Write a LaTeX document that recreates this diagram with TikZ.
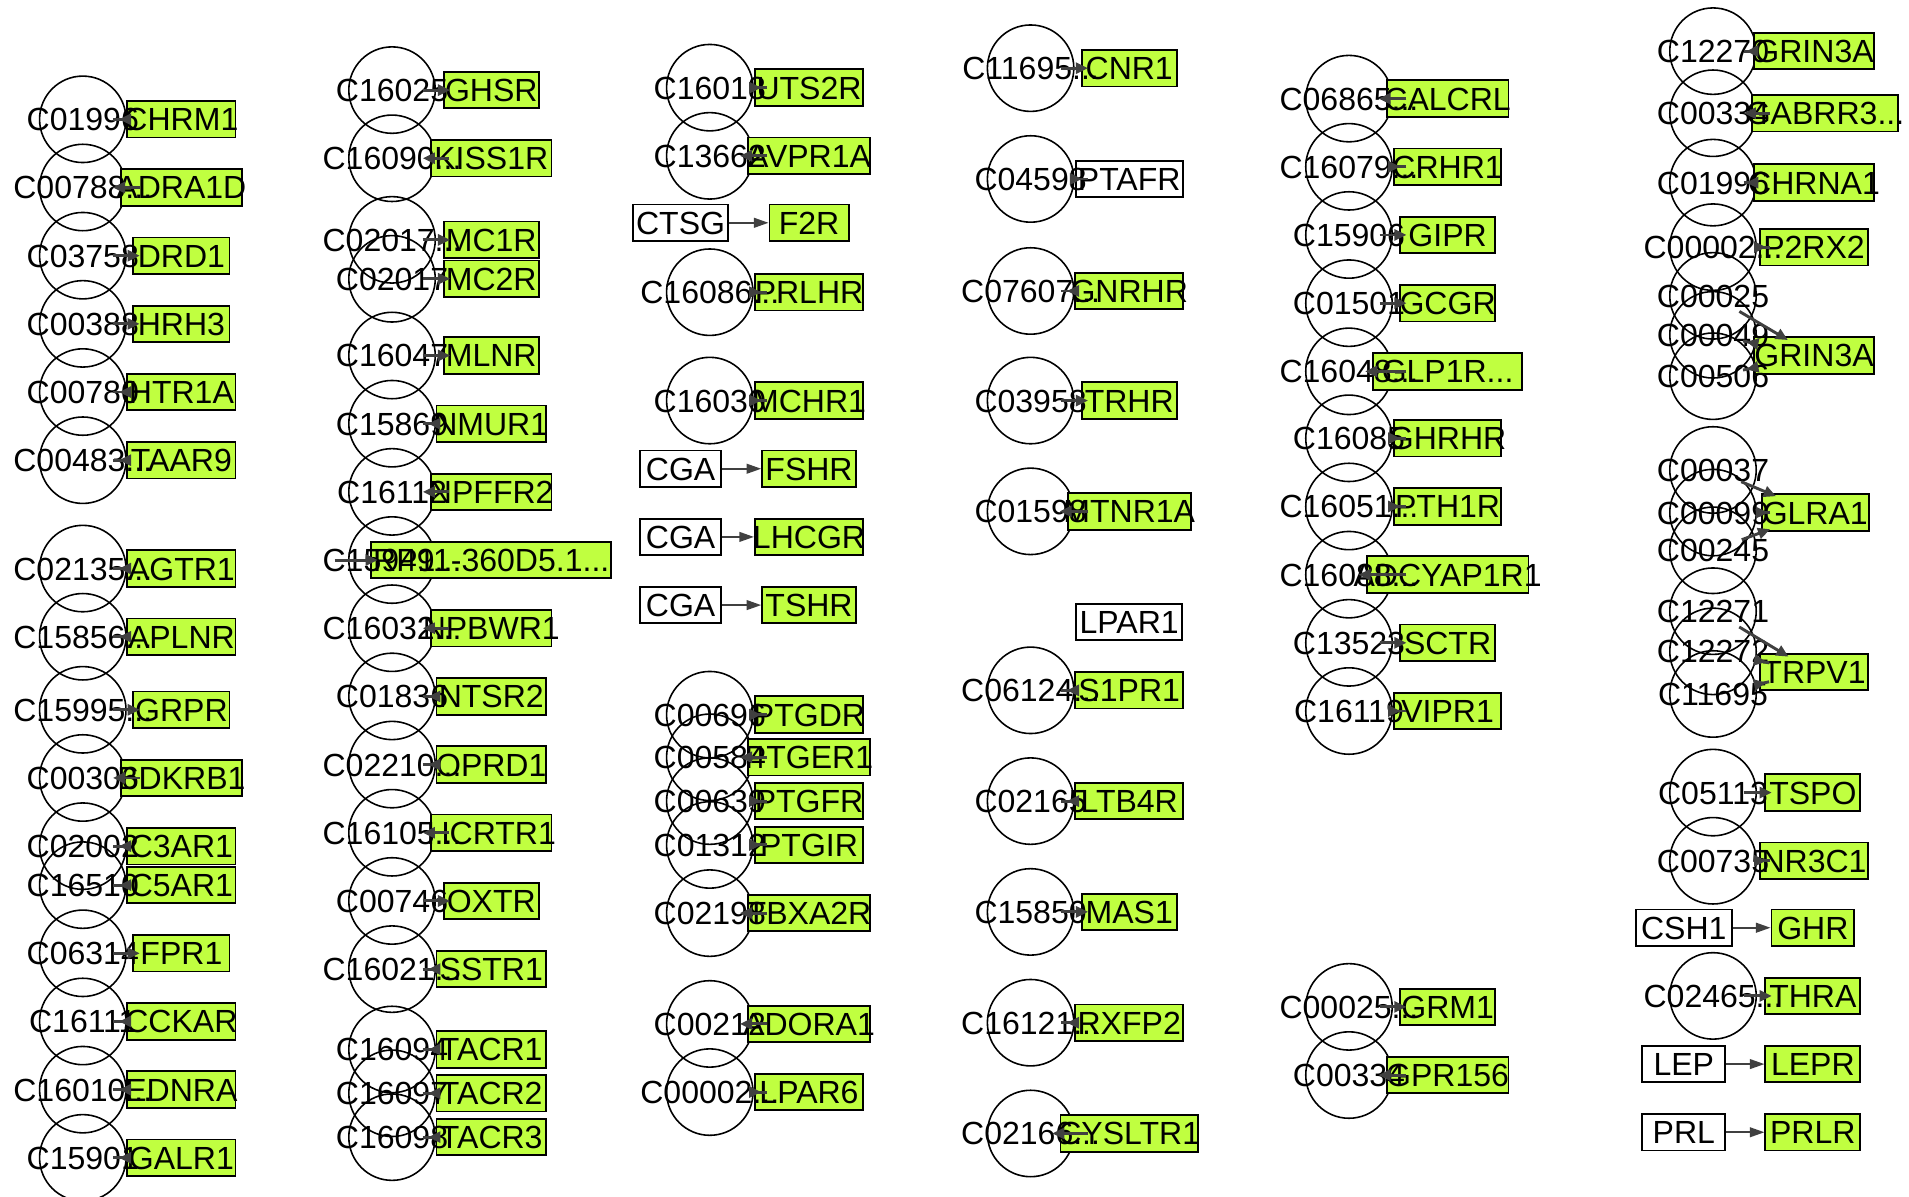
\documentclass[tikz,border=0pt]{standalone}
\usepackage{fontspec}
\setmainfont{Liberation Sans}
\usetikzlibrary{arrows.meta}
\definecolor{gfill}{RGB}{192,255,64}
\definecolor{edgegray}{RGB}{64,64,64}
\pgfdeclarelayer{shapes}\pgfdeclarelayer{boxes}\pgfdeclarelayer{arrows}
\pgfsetlayers{shapes,boxes,main,arrows}
\newcommand\lblfont{\fontsize{26.3}{26.3}\selectfont}
\tikzset{
 cpd/.style={circle, draw=black, line width=1.3pt, minimum size=71pt, inner sep=0pt},
 gbox/.style={rectangle, draw=black, fill=gfill, line width=1.5pt, minimum height=30pt, inner sep=0pt},
 wbox/.style={gbox, fill=white},
 lbl/.style={font=\lblfont, inner sep=0pt, text height=18.8pt, text depth=0pt},
 edge/.style={draw=edgegray, line width=2.4pt, -{Triangle[length=10pt,width=9pt]}, shorten <=-11pt, shorten >=-6pt},
 link/.style={draw=edgegray, line width=1.5pt, -{Triangle[length=12pt,width=8pt]}},
}
% id, y, circle x, box x, circle label, box width, gene, box style
\newcommand\cpdgene[8]{%
 \begin{pgfonlayer}{shapes}\node[cpd] (c#1) at (#3,#2) {};\end{pgfonlayer}
 \begin{pgfonlayer}{boxes}\node[#8, minimum width=#6pt] (g#1) at (#4,#2) {};\end{pgfonlayer}
 \node[lbl] (cl#1) at (c#1.center) {#5};
 \node[lbl] (gl#1) at (g#1.center) {#7};
 \begin{pgfonlayer}{arrows}\draw[edge] (c#1) -- (g#1);\end{pgfonlayer}
}
% id, y, circle x, label, target
\newcommand\cpdinto[5]{%
 \begin{pgfonlayer}{shapes}\node[cpd] (c#1) at (#3,#2) {};\end{pgfonlayer}
 \node[lbl] (cl#1) at (c#1.center) {#4};
 \begin{pgfonlayer}{arrows}\draw[edge] (c#1) -- (#5);\end{pgfonlayer}
}
% id, x, y, width, text, style
\newcommand\onebox[6]{%
 \begin{pgfonlayer}{boxes}\node[#6, minimum width=#4pt] (#1) at (#2,#3) {};\end{pgfonlayer}
 \node[lbl] (#1l) at (#1.center) {#5};
}
\begin{document}
\begin{tikzpicture}[x=1pt,y=-1pt]
\useasboundingbox (0,0) rectangle (1568,983);
% column 1
\cpdgene{1}{98}{68}{149}{C01996}{89}{CHRM1}{gbox}
\cpdgene{2}{154}{68}{149}{C00788...}{99}{ADRA1D}{gbox}
\cpdgene{3}{210}{68}{149}{C03758}{79}{DRD1}{gbox}
\cpdgene{4}{266}{68}{149}{C00388}{79}{HRH3}{gbox}
\cpdgene{5}{322}{68}{149}{C00780}{89}{HTR1A}{gbox}
\cpdgene{6}{378}{68}{149}{C00483...}{89}{TAAR9}{gbox}
\cpdgene{7}{467}{68}{149}{C02135...}{89}{AGTR1}{gbox}
\cpdgene{8}{523}{68}{149}{C15856...}{89}{APLNR}{gbox}
\cpdgene{9}{583}{68}{149}{C15995...}{79}{GRPR}{gbox}
\cpdgene{10}{639}{68}{149}{C00306}{99}{BDKRB1}{gbox}
\cpdgene{11}{695}{68}{149}{C02002}{89}{C3AR1}{gbox}
\cpdgene{12}{727}{68}{149}{C16510}{89}{C5AR1}{gbox}
\cpdgene{13}{783}{68}{149}{C06314}{79}{FPR1}{gbox}
\cpdgene{14}{839}{68}{149}{C16111}{89}{CCKAR}{gbox}
\cpdgene{15}{895}{68}{149}{C16010...}{89}{EDNRA}{gbox}
\cpdgene{16}{951}{68}{149}{C15901}{89}{GALR1}{gbox}
% column 2
\cpdgene{17}{74}{322}{403.5}{C16025}{78}{GHSR}{gbox}
\cpdgene{18}{130}{322}{403.5}{C16090...}{99}{KISS1R}{gbox}
\cpdgene{19}{197}{322}{403.5}{C02017...}{78}{MC1R}{gbox}
\cpdgene{20}{229}{322}{403.5}{C02017}{78}{MC2R}{gbox}
\cpdgene{21}{292}{322}{403.5}{C16047}{78}{MLNR}{gbox}
\cpdgene{22}{348}{322}{403.5}{C15869}{90}{NMUR1}{gbox}
\cpdgene{23}{404}{322}{403.5}{C16112}{99}{NPFFR2}{gbox}
\cpdgene{24}{460}{322}{403.5}{C15949...}{197}{RP11-360D5.1...}{gbox}
\cpdgene{25}{516}{322}{403.5}{C16032...}{99}{NPBWR1}{gbox}
\cpdgene{26}{572}{322}{403.5}{C01836}{90}{NTSR2}{gbox}
\cpdgene{27}{628}{322}{403.5}{C02210...}{90}{OPRD1}{gbox}
\cpdgene{28}{684}{322}{403.5}{C16105...}{99}{HCRTR1}{gbox}
\cpdgene{29}{740}{322}{403.5}{C00746}{78}{OXTR}{gbox}
\cpdgene{30}{796}{322}{403.5}{C16021...}{90}{SSTR1}{gbox}
\cpdgene{31}{862}{322}{403.5}{C16094}{90}{TACR1}{gbox}
\cpdgene{32}{898}{322}{403.5}{C16097}{90}{TACR2}{gbox}
\cpdgene{33}{934}{322}{403.5}{C16098}{90}{TACR3}{gbox}
% column 3
\cpdgene{34}{72}{583}{664.5}{C16018}{89}{UTS2R}{gbox}
\cpdgene{35}{128}{583}{664.5}{C13662}{100}{AVPR1A}{gbox}
\onebox{sCTSG}{559}{183}{78}{CTSG}{wbox}
\onebox{tF2R}{664.5}{183}{65}{F2R}{gbox}
\cpdgene{36}{240}{583}{664.5}{C16086...}{89}{PRLHR}{gbox}
\cpdgene{37}{329}{583}{664.5}{C16030}{89}{MCHR1}{gbox}
\onebox{sCGAa}{559}{385}{66}{CGA}{wbox}
\onebox{tFSHR}{664.5}{385}{77}{FSHR}{gbox}
\onebox{sCGAb}{559}{441}{66}{CGA}{wbox}
\onebox{tLHCGR}{664.5}{441}{89}{LHCGR}{gbox}
\onebox{sCGAc}{559}{497}{66}{CGA}{wbox}
\onebox{tTSHR}{664.5}{497}{77}{TSHR}{gbox}
\cpdgene{38}{587}{583}{664.5}{C00696}{89}{PTGDR}{gbox}
\cpdgene{39}{622}{583}{664.5}{C00584}{100}{PTGER1}{gbox}
\cpdgene{40}{658}{583}{664.5}{C00639}{89}{PTGFR}{gbox}
\cpdgene{41}{694}{583}{664.5}{C01312}{89}{PTGIR}{gbox}
\cpdgene{42}{750}{583}{664.5}{C02198}{100}{TBXA2R}{gbox}
\cpdgene{43}{841}{583}{664.5}{C00212}{100}{ADORA1}{gbox}
\cpdgene{44}{897}{583}{664.5}{C00002...}{89}{LPAR6}{gbox}
% column 4
\cpdgene{45}{56}{846.5}{927.5}{C11695...}{78}{CNR1}{gbox}
\cpdgene{46}{147}{846.5}{927.5}{C04598}{88}{PTAFR}{wbox}
\cpdgene{47}{239}{846.5}{927.5}{C07607...}{89}{GNRHR}{gbox}
\cpdgene{48}{329}{846.5}{927.5}{C03958}{78}{TRHR}{gbox}
\cpdgene{49}{420}{846.5}{927.5}{C01598}{101}{MTNR1A}{gbox}
\onebox{bLPAR1}{927.5}{511}{87}{LPAR1}{wbox}
\cpdgene{50}{567}{846.5}{927.5}{C06124...}{89}{S1PR1}{gbox}
\cpdgene{51}{658}{846.5}{927.5}{C02165}{89}{LTB4R}{gbox}
\cpdgene{52}{749}{846.5}{927.5}{C15850}{78}{MAS1}{gbox}
\cpdgene{53}{840}{846.5}{927.5}{C16121...}{89}{RXFP2}{gbox}
\cpdgene{54}{931}{846.5}{927.5}{C02166...}{113}{CYSLTR1}{gbox}
% column 5
\cpdgene{55}{81}{1108}{1189}{C06865...}{100}{CALCRL}{gbox}
\cpdgene{56}{137}{1108}{1189}{C16079...}{88}{CRHR1}{gbox}
\cpdgene{57}{193}{1108}{1189}{C15906}{78}{GIPR}{gbox}
\cpdgene{58}{249}{1108}{1189}{C01501}{78}{GCGR}{gbox}
\cpdgene{59}{305}{1108}{1189}{C16048...}{122}{GLP1R...}{gbox}
\cpdgene{60}{360}{1108}{1189}{C16085}{88}{GHRHR}{gbox}
\cpdgene{61}{416}{1108}{1189}{C16051...}{88}{PTH1R}{gbox}
\cpdgene{62}{472}{1108}{1189}{C16088...}{133}{ADCYAP1R1}{gbox}
\cpdgene{63}{528}{1108}{1189}{C13523}{78}{SCTR}{gbox}
\cpdgene{64}{584}{1108}{1189}{C16119}{88}{VIPR1}{gbox}
\cpdgene{65}{827}{1108}{1189}{C00025...}{78}{GRM1}{gbox}
\cpdgene{66}{883}{1108}{1189}{C00334}{100}{GPR156}{gbox}
% column 6
\cpdgene{67}{42}{1407}{1490}{C12270}{98}{GRIN3A}{gbox}
\cpdgene{68}{93}{1407}{1499}{C00334}{120}{GABRR3...}{gbox}
\cpdgene{69}{150}{1407}{1490}{C01996}{98}{CHRNA1}{gbox}
\cpdgene{70}{203}{1407}{1490}{C00002...}{89}{P2RX2}{gbox}
\onebox{bGRIN}{1490}{292}{98}{GRIN3A}{gbox}
\cpdinto{71}{243}{1407}{C00025}{bGRIN}
\cpdinto{72}{275}{1407}{C00049}{bGRIN}
\cpdinto{73}{309}{1407}{C00506}{bGRIN}
\onebox{bGLRA}{1491}{421}{88}{GLRA1}{gbox}
\cpdinto{74}{386}{1407}{C00037}{bGLRA}
\cpdinto{75}{421}{1407}{C00099}{bGLRA}
\cpdinto{76}{452}{1407}{C00245}{bGLRA}
\onebox{bTRPV}{1490}{552}{89}{TRPV1}{gbox}
\cpdinto{77}{502}{1407}{C12271}{bTRPV}
\cpdinto{78}{535}{1407}{C12272}{bTRPV}
\cpdinto{79}{570}{1407}{C11695}{bTRPV}
\cpdgene{80}{651}{1407}{1489}{C05113}{78}{TSPO}{gbox}
\cpdgene{81}{707}{1407}{1490}{C00735}{89}{NR3C1}{gbox}
\onebox{sCSH}{1383}{762}{79}{CSH1}{wbox}
\onebox{tGHR}{1489}{762}{68}{GHR}{gbox}
\cpdgene{82}{818}{1407}{1489}{C02465...}{78}{THRA}{gbox}
\onebox{sLEP}{1383}{874}{68}{LEP}{wbox}
\onebox{tLEPR}{1489}{874}{78}{LEPR}{gbox}
\onebox{sPRL}{1383}{930}{68}{PRL}{wbox}
\onebox{tPRLR}{1489}{930}{78}{PRLR}{gbox}
% box-to-box links
\begin{pgfonlayer}{arrows}
\draw[link] (sCTSG) -- (tF2R);
\draw[link] (sCGAa) -- (tFSHR);
\draw[link] (sCGAb) -- (tLHCGR);
\draw[link] (sCGAc) -- (tTSHR);
\draw[link] (sCSH) -- (tGHR);
\draw[link] (sLEP) -- (tLEPR);
\draw[link] (sPRL) -- (tPRLR);
\end{pgfonlayer}
\end{tikzpicture}
\end{document}
